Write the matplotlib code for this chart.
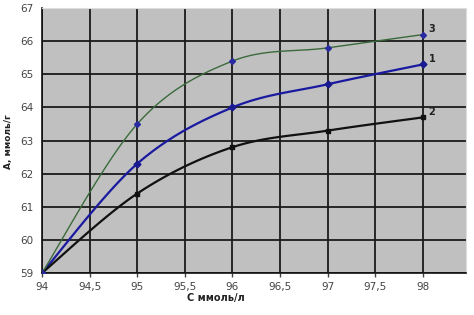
import numpy as np
import matplotlib
matplotlib.use("Agg")
import matplotlib.pyplot as plt
from matplotlib.ticker import FuncFormatter, MultipleLocator

x = [94, 95, 96, 97, 98]
s1 = [59, 62.3, 64.0, 64.7, 65.3]
s2 = [59, 61.4, 62.8, 63.3, 63.7]
s3 = [59, 63.5, 65.4, 65.8, 66.2]
labels = ["1", "2", "3"]


def smooth(xs, ys, n=30):
    xs = np.asarray(xs, float)
    ys = np.asarray(ys, float)
    px = np.concatenate([[xs[0]], xs, [xs[-1]]])
    py = np.concatenate([[ys[0]], ys, [ys[-1]]])
    ox, oy = [], []
    t = np.linspace(0, 1, n)
    for i in range(1, len(px) - 2):
        for arr, out in ((px, ox), (py, oy)):
            p0, p1, p2, p3 = arr[i - 1], arr[i], arr[i + 1], arr[i + 2]
            m1 = (p2 - p0) / 2
            m2 = (p3 - p1) / 2
            h00 = 2 * t**3 - 3 * t**2 + 1
            h10 = t**3 - 2 * t**2 + t
            h01 = -2 * t**3 + 3 * t**2
            h11 = t**3 - t**2
            out.extend(h00 * p1 + h10 * m1 + h01 * p2 + h11 * m2)
    return np.array(ox), np.array(oy)


fig = plt.figure(figsize=(4.74, 3.15), dpi=100)
ax = fig.add_axes([0.0886, 0.1333, 0.894, 0.841])
ax.set_facecolor("#c0c0c0")

series = [(s1, "#1a1aa0", "#1a1a90", 1.6, "D", 3.5),
          (s2, "#111111", "#111111", 1.6, "s", 3.5),
          (s3, "#3a6a3a", "#2a2aa0", 1.0, "D", 3.0)]
for (ys, lc, mc, lw, mk, ms) in series:
    sx, sy = smooth(x, ys)
    ax.plot(sx, sy, color=lc, lw=lw, zorder=3)
    ax.plot(x, ys, ls="none", marker=mk, ms=ms, color=mc, zorder=4)

for lab, ys in zip(labels, [s1, s2, s3]):
    ax.text(x[-1] + 0.06, ys[-1] + 0.02, lab, fontsize=7, fontweight="bold",
            ha="left", va="bottom", color="#222222")

ax.set_xlim(94, 98.45)
ax.set_ylim(59, 67)
ax.xaxis.set_major_locator(MultipleLocator(0.5))
ax.yaxis.set_major_locator(MultipleLocator(1))
fmt = FuncFormatter(lambda v, p: ("%g" % v).replace(".", ","))
ax.xaxis.set_major_formatter(fmt)
ax.yaxis.set_major_formatter(fmt)
ax.grid(True, color="#1a1a1a", lw=1.3)
ax.set_axisbelow(True)
ax.tick_params(labelsize=7.5, colors="#444444", length=3, width=1.0)
ax.tick_params(axis="y", length=0, pad=6)
for sp in ["left", "bottom"]:
    ax.spines[sp].set_color("#111111")
    ax.spines[sp].set_linewidth(1.2)
for sp in ["top", "right"]:
    ax.spines[sp].set_color("#dddddd")
    ax.spines[sp].set_linewidth(0.8)

fig.text(0.455, 0.045, "С ммоль/л", fontsize=7, fontweight="bold", ha="center", color="#222222")
fig.text(0.018, 0.55, "А, ммоль/г", fontsize=6.5, fontweight="bold", rotation=90,
         ha="center", va="center", color="#222222")

fig.savefig("out.png", dpi=100)
